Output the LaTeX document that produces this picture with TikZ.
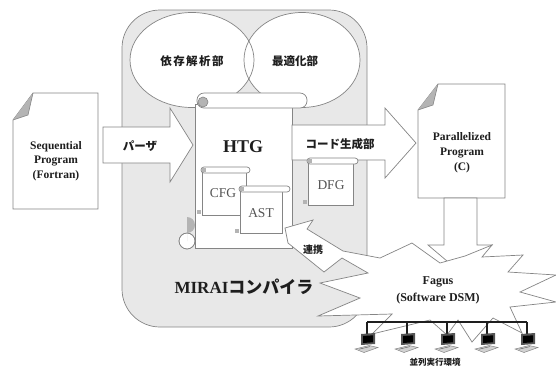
\documentclass[tikz,border=0pt]{standalone}
\usepackage{fontspec}
\setmainfont{Liberation Serif}
\newfontfamily\jp{Noto Sans CJK JP}
\definecolor{edge}{HTML}{858585}
\definecolor{panel}{HTML}{E8E8E8}
\definecolor{ink}{HTML}{1E1E1E}
\definecolor{soft}{HTML}{555555}
\definecolor{curl}{HTML}{B4B4B4}
\tikzset{
  shape line/.style={draw=edge, fill=white, line width=0.7pt, line join=miter},
  lbl/.style={inner sep=0pt, text=ink, align=center},
  minor/.style={inner sep=0pt, text=soft, font=\fontsize{13.5}{14}\selectfont},
  jplbl/.style={inner sep=0pt, text=ink, font=\jp\bfseries\fontsize{11.5}{12}\selectfont},
  pc/.pic={
    \fill[soft] (-6,1) -- (8,0) -- (8,11) -- (-6,12) -- cycle;
    \fill[black] (-4,3) -- (6,2.3) -- (6,9.3) -- (-4,10) -- cycle;
    \draw[edge, fill=curl!60, line width=0.5pt] (-12,16) -- (2,12.5) -- (11,14.5) -- (-3,19.5) -- cycle;
    \draw[soft, line width=0.4pt] (-8,16.2) -- (3,13.6);
  }
}
\begin{document}
\begin{tikzpicture}[x=1pt, y=-1pt]
\useasboundingbox (0,0) rectangle (556,373);

% compiler panel
\draw[draw=edge, fill=panel, line width=0.7pt, rounded corners=38pt] (122,10) rectangle (367,327);

% analysis and optimisation bubbles
\fill[white] (192,60) ellipse [x radius=62, y radius=47.5];
\fill[white] (302,60) ellipse [x radius=58, y radius=47.5];
\draw[edge, line width=0.7pt] (192,60) ellipse [x radius=62, y radius=47.5];
\draw[edge, line width=0.7pt] (302,60) ellipse [x radius=58, y radius=47.5];
\node[jplbl] (deplbl) at (192,61) {\addfontfeature{LetterSpace=12}依存解析部};
\node[jplbl] (optlbl) at (295,61) {最適化部};

% parser arrow
\draw[shape line] (103,127) -- (170,127) -- (170,108) -- (193,145) -- (170,182) -- (170,163) -- (103,163) -- cycle;
\node[jplbl] (parser) at (140,146) {パーザ};

% HTG scroll
\draw[shape line] (195,104) rectangle (292,248);
\draw[shape line, rounded corners=7pt] (197,93) rectangle (307,108);
\draw[draw=edge, fill=curl, line width=0.6pt] (203,102) circle (5);
\draw[draw=edge, fill=white, line width=0.6pt] (187,241) circle (8);
\fill[curl] (187,241) -- (187,233) arc[start angle=90, end angle=-90, radius=8] -- cycle;
\draw[edge, line width=0.6pt] (187,241) circle (8);
\node[lbl, font=\bfseries\fontsize{18}{20}\selectfont] (htg) at (243,147) {HTG};

% code generation arrow
\draw[shape line] (292,125) -- (385,125) -- (385,108) -- (416,143) -- (385,178) -- (385,160) -- (292,160) -- cycle;
\node[jplbl] (codegen) at (340,144) {コード生成部};

% CFG scroll
\draw[shape line] (202,172) rectangle (246,215);
\draw[shape line, rounded corners=3pt] (201,167) rectangle (250,173);
\fill[curl] (201.5,167.5) rectangle (205.5,171.5);
\fill[curl] (197,210) rectangle (201,214);
\node[minor] (cfg) at (223,193) {CFG};

% AST scroll
\draw[shape line] (240,191) rectangle (282,233);
\draw[shape line, rounded corners=3pt] (239,186) rectangle (290,192);
\fill[curl] (239.5,186.5) rectangle (243.5,190.5);
\fill[curl] (235,229) rectangle (239,233);
\node[minor] (ast) at (261,213) {AST};

% DFG scroll
\draw[shape line] (308,162) rectangle (353,205);
\draw[shape line, rounded corners=3pt] (307,158) rectangle (358,164);
\fill[curl] (307.5,158.5) rectangle (311.5,162.5);
\fill[curl] (303,200) rectangle (307,204);
\node[minor] (dfg) at (331,185) {DFG};

% source program sheet
\draw[shape line] (33,93) -- (98,93) -- (98,209) -- (13,209) -- (13,120) -- cycle;
\fill[curl] (13,120) -- (33,93) -- (28,115) -- cycle;
\draw[edge, line width=0.6pt] (13,120) -- (28,115) -- (33,93);
\node[lbl, font=\bfseries\fontsize{11.5}{14.5}\selectfont] (seq) at (56,161) {Sequential\\Program\\(Fortran)};

% parallel program sheet
\draw[shape line] (438,84) -- (505,84) -- (505,198) -- (418,198) -- (418,110) -- cycle;
\fill[curl] (418,110) -- (438,84) -- (433,105) -- cycle;
\draw[edge, line width=0.6pt] (418,110) -- (433,105) -- (438,84);
\node[lbl, font=\bfseries\fontsize{11.5}{15}\selectfont] (par) at (462,153) {Parallelized\\Program\\(C)};

% down arrow into the DSM
\draw[shape line] (444,198) -- (444,245) -- (428,245) -- (460,272) -- (492,245) -- (477,245) -- (477,198) -- cycle;

% Fagus burst with the link spike towards the compiler
\draw[shape line] (320,283) -- (368,273) -- (342,258) -- (324,272) -- (288,243) -- (285,228)
  -- (313,220) -- (307,229) -- (343,251) -- (380,258) -- (412,243) -- (440,263) -- (465,256)
  -- (492,245) -- (482,257) -- (523,255) -- (508,272) -- (556,275) -- (520,292) -- (556,302)
  -- (510,307) -- (522,333) -- (493,318) -- (472,342) -- (458,320) -- (447,335) -- (430,320)
  -- (372,334) -- (392,314) -- (318,316) -- (360,298) -- cycle;
\node[lbl, font=\jp\bfseries\fontsize{10}{11}\selectfont] (link) at (313,250) {連携};
\node[lbl, font=\bfseries\fontsize{12}{17}\selectfont] (fagus) at (438,290.5) {Fagus\\(Software DSM)};

% compiler caption
\node[lbl, font=\bfseries\fontsize{17}{18}\selectfont] (mirai) at (244,287) {MIRAI{\jp コンパイラ}};

% network of workstations
\coordinate (b1) at (367,322);
\coordinate (b5) at (527,322);
\draw[ink, line width=1.1pt] (b1) -- (b5);
\foreach \x in {367,407,447,487,527} {
  \draw[ink, line width=1.1pt] (\x,322) -- (\x,334);
  \pic at (\x,333) {pc};
}
\node[lbl, font=\jp\bfseries\fontsize{8.5}{9}\selectfont] (env) at (435,362) {並列実行環境};
\end{tikzpicture}
\end{document}
